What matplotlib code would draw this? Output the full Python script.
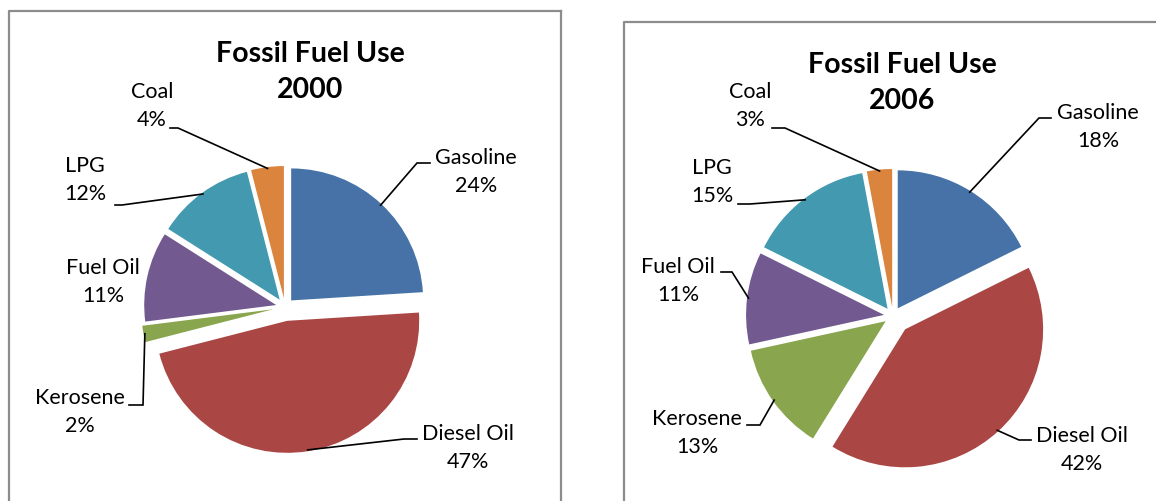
"""Fossil fuel use 2000 vs 2006 - two exploded pies, Excel style."""

import numpy as np
import matplotlib
matplotlib.use("Agg")
import matplotlib.pyplot as plt

W, H = 1156, 501

# ── Data ───────────────────────────────────────────────────────────
fuels = ["Gasoline", "Diesel Oil", "Kerosene", "Fuel Oil", "LPG", "Coal"]
share_2000 = [24, 47, 2, 11, 12, 4]
share_2006 = [18, 42, 13, 11, 15, 3]
colors = ["#4672A8", "#AA4644", "#89A54E", "#72598F", "#4299B0", "#DA843E"]

# ── Layout (pixel coords, y measured from the top) ─────────────────
panels = [
    dict(year="2000", values=share_2000, center=(285, 307), radius=132,
         explode=[9, 14, 12, 9, 9, 9],
         title=(310, 72), box=(9, 11, 561),
         text={"Gasoline": (476, 172), "Diesel Oil": (468, 448), "Kerosene": (80, 412),
               "Fuel Oil": (103, 282), "LPG": (85, 180), "Coal": (152, 106)},
         elbow={"Gasoline": ((430, 163), (417, 163)), "Diesel Oil": ((417, 439), (404, 439)),
                "Kerosene": ((129, 405), (143, 405)), "LPG": ((115, 205), (122, 205)),
                "Coal": ((170, 128), (178, 128))}),
    dict(year="2006", values=share_2006, center=(893, 316), radius=138,
         explode=[9, 18, 9, 9, 9, 9],
         title=(902, 83), box=(624, 22, None),
         text={"Gasoline": (1098, 127), "Diesel Oil": (1082, 450), "Kerosene": (697, 433),
               "Fuel Oil": (678, 281), "LPG": (712, 182), "Coal": (750, 106)},
         elbow={"Gasoline": ((1051, 118), (1039, 118)), "Diesel Oil": ((1031, 440), (1019, 440)),
                "Kerosene": ((747, 425), (760, 425)), "Fuel Oil": ((721, 272), (732, 272)),
                "LPG": ((738, 204), (750, 204)), "Coal": ((772, 128), (785, 128))}),
]

FONT = "Lato"


def Y(y):
    return H - y


fig = plt.figure(figsize=(W / 100, H / 100), dpi=100)
ax = fig.add_axes([0, 0, 1, 1])

for p in panels:
    cx, cy = p["center"]
    wedges, _ = ax.pie(p["values"], colors=colors, startangle=90, counterclock=False,
                       explode=p["explode"], center=(cx, Y(cy)), radius=p["radius"],
                       wedgeprops=dict(linewidth=0))

    # title
    tx, ty = p["title"]
    ax.text(tx, Y(ty), f"Fossil Fuel Use\n{p['year']}", ha="center", va="center",
            fontsize=20.5, fontweight="bold", family=FONT, linespacing=1.45)

    # labels + leader lines (leader ends on the slice edge at its mid angle)
    for w, name, val in zip(wedges, fuels, p["values"]):
        lx, ly = p["text"][name]
        ax.text(lx, Y(ly), f"{name}\n{val}%", ha="center", va="center",
                fontsize=15.5, family=FONT, linespacing=1.55)
        if name in p["elbow"]:
            mid = np.deg2rad((w.theta1 + w.theta2) / 2)
            wx = w.center[0] + 0.99 * w.r * np.cos(mid)
            wy = w.center[1] + 0.99 * w.r * np.sin(mid)
            (sx, sy), (ex, ey) = p["elbow"][name]
            ax.plot([sx, ex, wx], [Y(sy), Y(ey), wy], color="black", lw=1.2,
                    solid_joinstyle="miter")

    # chart border
    bx, by, br = p["box"]
    right = br if br is not None else W + 5
    ax.plot([bx, bx, right], [-5, Y(by), Y(by)], color="#8c8c8c", lw=1.6)
    if br is not None:
        ax.plot([br, br], [Y(by), -5], color="#8c8c8c", lw=1.6)

ax.set_xlim(0, W)
ax.set_ylim(0, H)
ax.set_aspect("equal")
ax.axis("off")

plt.savefig("out.png", dpi=100)
plt.close()
